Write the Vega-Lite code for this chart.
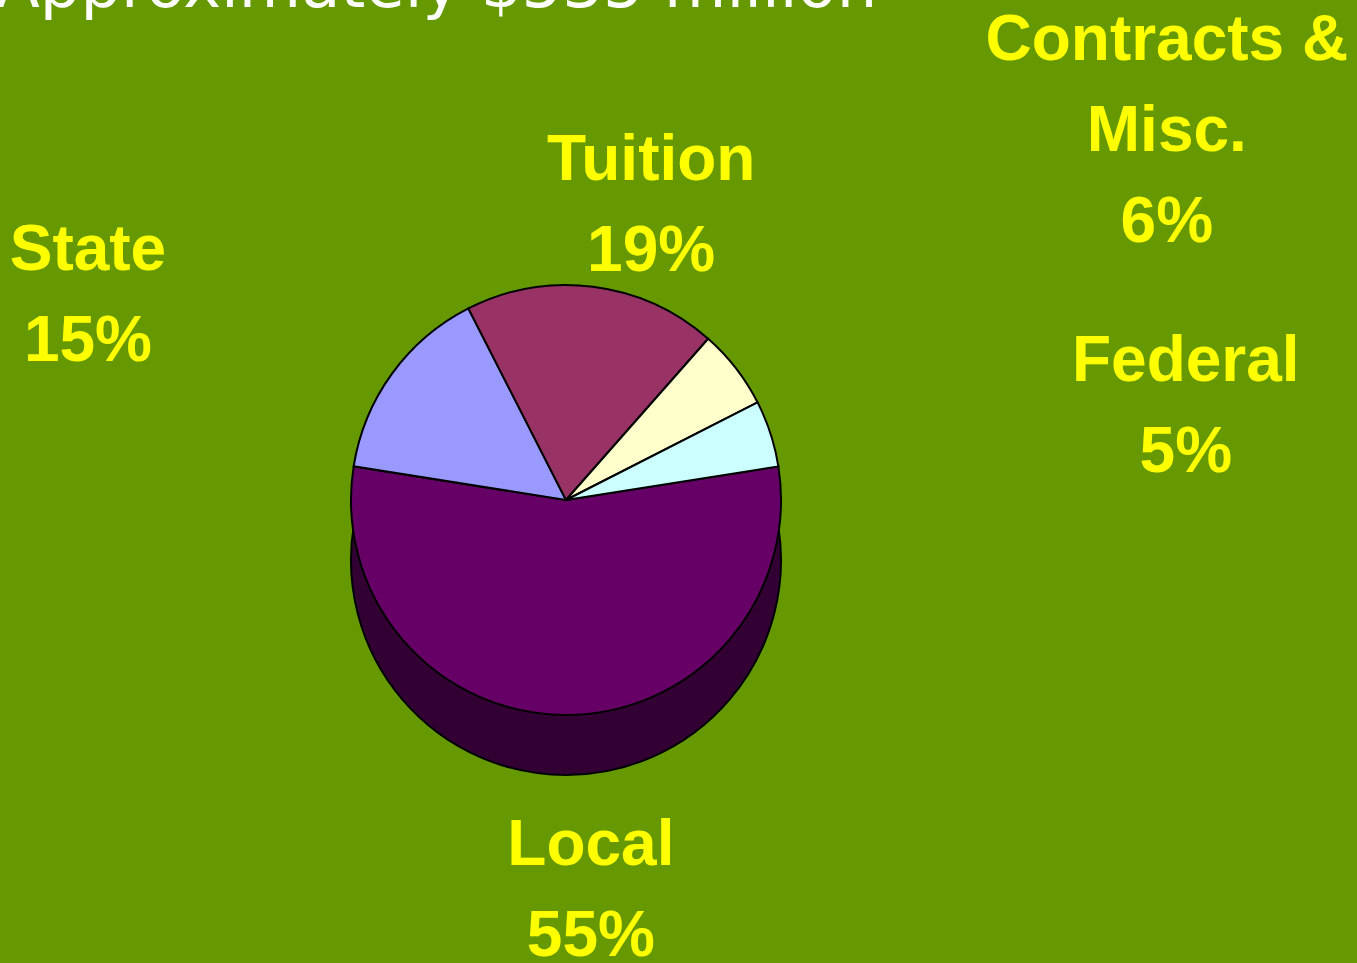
{
  "$schema": "https://vega.github.io/schema/vega-lite/v6.json",
  "width": 1132,
  "height": 926,
  "autosize": {"type": "none"},
  "padding": {"left": 0, "top": 37, "right": 225, "bottom": 0},
  "background": "#669900",
  "view": {"stroke": null},
  "title": {
    "text": "Approximately $535 million",
    "anchor": "start",
    "frame": "group",
    "font": "DejaVu Sans",
    "fontSize": 64,
    "fontWeight": "normal",
    "color": "#FFFFFF",
    "baseline": "alphabetic",
    "offset": 0,
    "dy": 62,
    "dx": -4
  },
  "data": {
    "values": [
      {"source": "Local", "pct": 55, "label": "Local\n55%"},
      {"source": "State", "pct": 15, "label": "State\n15%"},
      {"source": "Tuition", "pct": 19, "label": "Tuition\n19%"},
      {"source": "Contracts & Misc.", "pct": 6, "label": "Contracts &\nMisc.\n6%"},
      {"source": "Federal", "pct": 5, "label": "Federal\n5%"}
    ]
  },
  "transform": [
    {"stack": "pct", "groupby": [], "sort": [{"field": "source", "order": "ascending"}], "as": ["s0", "s1"]}
  ],
  "encoding": {
    "theta": {"field": "s0", "type": "quantitative", "scale": {"domain": [0, 100], "range": [0.7226, 7.0058]}}
  },
  "layer": [
    {
      "transform": [{"filter": "datum.source === 'Local'"}],
      "mark": {"type": "arc", "outerRadius": 215, "yOffset": 60, "fill": "#330033", "stroke": "#000000", "strokeWidth": 2},
      "encoding": {"theta2": {"field": "s1"}}
    },
    {
      "mark": {"type": "arc", "outerRadius": 215, "stroke": "#000000", "strokeWidth": 2},
      "encoding": {
        "theta2": {"field": "s1"},
        "color": {
          "field": "source",
          "type": "nominal",
          "scale": {
            "domain": ["Local", "State", "Tuition", "Contracts & Misc.", "Federal"],
            "range": ["#660066", "#9999FF", "#993366", "#FFFFCC", "#CCFFFF"]
          },
          "legend": null
        }
      }
    },
    {
      "transform": [{"filter": "datum.source === 'Tuition'"}],
      "mark": {"type": "text", "radius": 350, "thetaOffset": 0.717, "font": "Liberation Sans", "fontSize": 64, "fontWeight": "bold", "fill": "#FFFF00", "lineBreak": "\n", "lineHeight": 91, "align": "center", "baseline": "middle"},
      "encoding": {"text": {"field": "label", "type": "nominal"}}
    },
    {
      "transform": [{"filter": "datum.source === 'State'"}],
      "mark": {"type": "text", "radius": 539, "thetaOffset": 0.323, "font": "Liberation Sans", "fontSize": 64, "fontWeight": "bold", "fill": "#FFFF00", "lineBreak": "\n", "lineHeight": 91, "align": "center", "baseline": "middle"},
      "encoding": {"text": {"field": "label", "type": "nominal"}}
    },
    {
      "transform": [{"filter": "datum.source === 'Contracts & Misc.'"}],
      "mark": {"type": "text", "radius": 756, "thetaOffset": 0.196, "font": "Liberation Sans", "fontSize": 64, "fontWeight": "bold", "fill": "#FFFF00", "lineBreak": "\n", "lineHeight": 91, "align": "center", "baseline": "middle"},
      "encoding": {"text": {"field": "label", "type": "nominal"}}
    },
    {
      "transform": [{"filter": "datum.source === 'Federal'"}],
      "mark": {"type": "text", "radius": 635, "thetaOffset": 0.252, "font": "Liberation Sans", "fontSize": 64, "fontWeight": "bold", "fill": "#FFFF00", "lineBreak": "\n", "lineHeight": 91, "align": "center", "baseline": "middle"},
      "encoding": {"text": {"field": "label", "type": "nominal"}}
    },
    {
      "transform": [{"filter": "datum.source === 'Local'"}],
      "mark": {"type": "text", "radius": 347, "thetaOffset": 1.656, "font": "Liberation Sans", "fontSize": 64, "fontWeight": "bold", "fill": "#FFFF00", "lineBreak": "\n", "lineHeight": 91, "align": "center", "baseline": "middle"},
      "encoding": {"text": {"field": "label", "type": "nominal"}}
    }
  ]
}
